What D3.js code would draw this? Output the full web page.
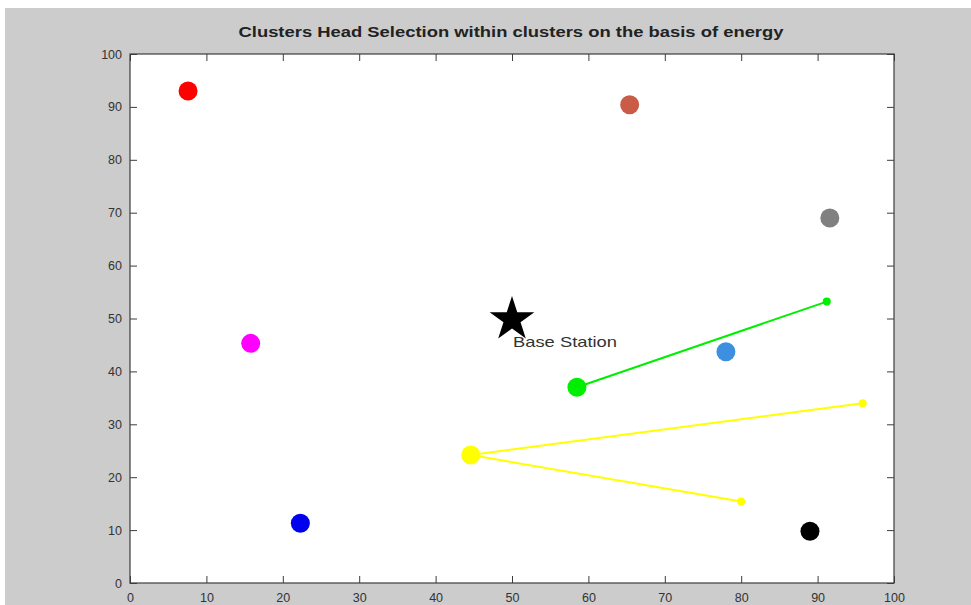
<!DOCTYPE html>
<html>
<head>
<meta charset="utf-8">
<script src="https://cdn.jsdelivr.net/npm/d3@7"></script>
<style>
  html, body { margin: 0; padding: 0; background: #ffffff; }
  svg { display: block; }
</style>
</head>
<body>
<svg id="chart" width="971" height="605"></svg>
<script>
// ---- data ----
const title = "Clusters Head Selection within clusters on the basis of energy";
const xTicks = [0, 10, 20, 30, 40, 50, 60, 70, 80, 90, 100];
const yTicks = [0, 10, 20, 30, 40, 50, 60, 70, 80, 90, 100];

const headX = [7.6, 65.4, 91.6, 15.8, 78.0, 58.5, 44.6, 22.3, 89.0];
const headY = [93.0, 90.4, 69.0, 45.3, 43.7, 37.0, 24.2, 11.3, 9.8];
const headColor = ["#ff0000", "#c95b47", "#808080", "#ff00ff", "#3d8fe0", "#00ee00", "#ffff00", "#0000ee", "#000000"];

// member links: [head index, member x, member y]
const linkHead = [5, 6, 6];
const linkX = [91.2, 95.9, 80.0];
const linkY = [53.2, 34.0, 15.4];

const baseStation = { x: 50, y: 50, label: "Base Station", labelX: 50, labelY: 45.4 };

// ---- layout ----
const svg = d3.select("#chart");
const W = 971, H = 605;
const plot = { left: 130, right: 894, top: 54, bottom: 583 };

svg.append("rect").attr("x", 0).attr("y", 0).attr("width", W).attr("height", H).attr("fill", "#ffffff");
svg.append("rect").attr("x", 5).attr("y", 8).attr("width", W - 5).attr("height", H - 8).attr("fill", "#cccccc");

const x = d3.scaleLinear().domain([0, 100]).range([plot.left, plot.right]);
const y = d3.scaleLinear().domain([0, 100]).range([plot.bottom, plot.top]);

svg.append("rect")
  .attr("x", plot.left).attr("y", plot.top)
  .attr("width", plot.right - plot.left).attr("height", plot.bottom - plot.top)
  .attr("fill", "#ffffff");

const axisColor = "#3c3c3c";
const tickLen = 7;
const fontFam = "'Liberation Sans', Arial, sans-serif";

function styleAxis(g, showLabels) {
  g.select(".domain").remove();
  g.selectAll(".tick line").attr("stroke", axisColor).attr("stroke-width", 1);
  g.selectAll(".tick text")
    .attr("fill", "#333")
    .style("font-family", fontFam)
    .style("font-size", "12.5px");
  if (!showLabels) g.selectAll(".tick text").remove();
}

// bottom
svg.append("g").attr("transform", `translate(0,${plot.bottom})`)
  .call(d3.axisBottom(x).tickValues(xTicks).tickSize(-tickLen).tickPadding(tickLen + 3).tickFormat(d3.format("d")))
  .call(g => styleAxis(g, true));
// top
svg.append("g").attr("transform", `translate(0,${plot.top})`)
  .call(d3.axisTop(x).tickValues(xTicks).tickSize(-tickLen))
  .call(g => styleAxis(g, false));
// left
svg.append("g").attr("transform", `translate(${plot.left},0)`)
  .call(d3.axisLeft(y).tickValues(yTicks).tickSize(-tickLen).tickPadding(tickLen + 1).tickFormat(d3.format("d")))
  .call(g => styleAxis(g, true));
// right
svg.append("g").attr("transform", `translate(${plot.right},0)`)
  .call(d3.axisRight(y).tickValues(yTicks).tickSize(-tickLen))
  .call(g => styleAxis(g, false));

// box
svg.append("rect")
  .attr("x", plot.left).attr("y", plot.top)
  .attr("width", plot.right - plot.left).attr("height", plot.bottom - plot.top)
  .attr("fill", "none").attr("stroke", axisColor).attr("stroke-width", 1.2);

// links
const links = linkHead.map((h, i) => ({ h, x: linkX[i], y: linkY[i] }));
svg.append("g").selectAll("line").data(links).join("line")
  .attr("x1", d => x(headX[d.h])).attr("y1", d => y(headY[d.h]))
  .attr("x2", d => x(d.x)).attr("y2", d => y(d.y))
  .attr("stroke", d => headColor[d.h]).attr("stroke-width", 2);
svg.append("g").selectAll("circle").data(links).join("circle")
  .attr("cx", d => x(d.x)).attr("cy", d => y(d.y)).attr("r", 4)
  .attr("fill", d => headColor[d.h]);

// heads
const heads = headX.map((v, i) => ({ x: v, y: headY[i], c: headColor[i] }));
svg.append("g").selectAll("circle").data(heads).join("circle")
  .attr("cx", d => x(d.x)).attr("cy", d => y(d.y)).attr("r", 9.5)
  .attr("fill", d => d.c);

// base station star
svg.append("path")
  .attr("d", d3.symbol().type(d3.symbolStar).size(620)())
  .attr("transform", `translate(${x(baseStation.x)},${y(baseStation.y) + 1})`)
  .attr("fill", "#000");

svg.append("text")
  .attr("x", x(baseStation.labelX) + 1).attr("y", y(baseStation.labelY))
  .attr("dominant-baseline", "middle")
  .attr("textLength", 104).attr("lengthAdjust", "spacingAndGlyphs")
  .style("font-family", fontFam).style("font-size", "15px").attr("fill", "#333")
  .text(baseStation.label);

// title
svg.append("text")
  .attr("x", (plot.left + plot.right) / 2 - 1).attr("y", 33)
  .attr("text-anchor", "middle").attr("dominant-baseline", "middle")
  .attr("textLength", 545).attr("lengthAdjust", "spacingAndGlyphs")
  .style("font-family", fontFam).style("font-size", "15px").style("font-weight", "bold")
  .attr("fill", "#222")
  .text(title);
</script>
</body>
</html>
